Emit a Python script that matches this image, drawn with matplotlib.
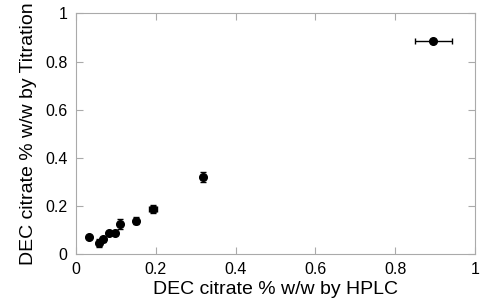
import matplotlib
matplotlib.use('Agg')
import matplotlib.pyplot as plt

# values
hplc = [0.033, 0.058, 0.068, 0.083, 0.098, 0.110, 0.151, 0.194, 0.318, 0.895]
titr = [0.070, 0.045, 0.061, 0.086, 0.086, 0.125, 0.139, 0.188, 0.320, 0.885]
hplc_err = [0.0, 0.0, 0.0, 0.0, 0.0, 0.0, 0.0, 0.010, 0.005, 0.046]
titr_err = [0.0, 0.016, 0.010, 0.006, 0.006, 0.020, 0.013, 0.017, 0.020, 0.007]

plt.rcParams['font.family'] = ['Liberation Sans', 'DejaVu Sans']

fig = plt.figure(figsize=(4.8, 3.06), dpi=100)
ax = fig.add_axes([0.158, 0.170, 0.832, 0.786])

ax.errorbar(hplc, titr, xerr=hplc_err, yerr=titr_err, fmt='o', color='black',
            ms=5.5, elinewidth=1, capsize=2.5, capthick=1)

ax.set_xlim(0, 1)
ax.set_ylim(0, 1)
ax.set_xticks([0, 0.2, 0.4, 0.6, 0.8, 1])
ax.set_xticklabels(['0', '0.2', '0.4', '0.6', '0.8', '1'])
ax.set_yticks([0, 0.2, 0.4, 0.6, 0.8, 1])
ax.set_yticklabels(['0', '0.2', '0.4', '0.6', '0.8', '1'])

for s in ['top', 'bottom', 'left', 'right']:
    ax.spines[s].set_color('#aaaaaa')
ax.tick_params(direction='in', top=True, right=True, length=5,
               color='#aaaaaa', labelsize=11.5, pad=6)

ax.set_xlabel('DEC citrate % w/w by HPLC', fontsize=14, labelpad=3)
ax.set_ylabel('DEC citrate % w/w by Titration', fontsize=14, labelpad=6)

fig.savefig('out.png', dpi=100)
